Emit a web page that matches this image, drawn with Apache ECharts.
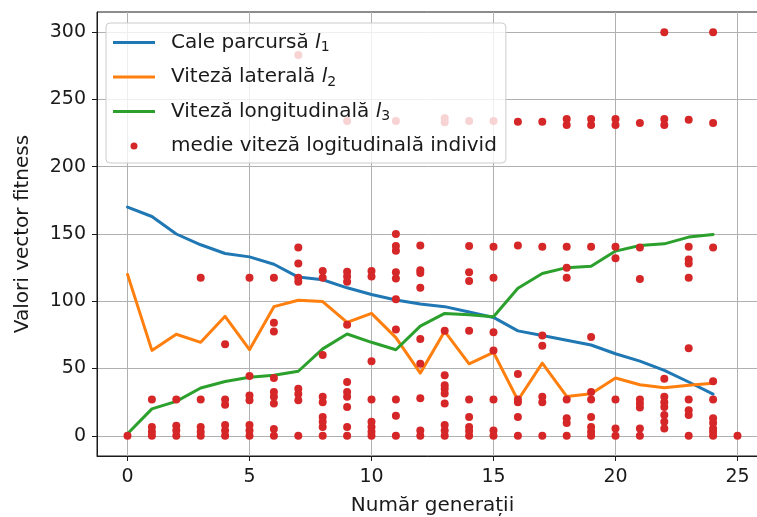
<!DOCTYPE html>
<html>
<head>
<meta charset="utf-8">
<script src="https://cdn.jsdelivr.net/npm/echarts@6/dist/echarts.min.js"></script>
<style>
  html, body { margin: 0; padding: 0; background: #fff; }
  #chart { width: 757px; height: 517px; }
</style>
</head>
<body>
<div id="chart"></div>
<script>
// Generation index for the three fitness components
const generatii = [0, 1, 2, 3, 4, 5, 6, 7, 8, 9, 10, 11, 12, 13, 14, 15, 16, 17, 18, 19, 20, 21, 22, 23, 24];

// Fitness vector components per generation
const caleParcursa = [170, 163, 150, 142, 135.5, 133, 127.5, 118, 116, 110, 105, 101, 98, 96, 92, 88, 78, 74.5, 71, 67.5, 61, 55.5, 48.6, 40, 31];
const vitezaLaterala = [120, 63.5, 75.5, 69.5, 88.8, 64, 96, 100.8, 99.8, 84.3, 91, 73, 46.6, 77.7, 53.5, 62, 26.4, 54, 29.3, 31.3, 43, 38, 35.7, 37.5, 39];
const vitezaLongitudinala = [1.5, 20, 25.6, 35.5, 40.4, 43.6, 45, 48, 64.6, 75.7, 69.5, 64, 81.5, 91, 90, 88.5, 109.7, 120.6, 125, 126, 137.3, 141.5, 142.7, 147.7, 149.7];

// Mean longitudinal speed of each individual, grouped by generation (index = generation)
const medieIndivid = [
  [0],
  [0, 3, 6.5, 27],
  [0, 4, 7.5, 27],
  [0, 3, 6.5, 27, 117.5],
  [0, 4, 8, 23, 27, 68],
  [0, 4, 8, 26.5, 30, 44.5, 117.5],
  [0, 5, 24, 29, 32.5, 43, 77.5, 84, 117.5],
  [0, 26.5, 31, 35, 114.5, 117.5, 128, 140, 283],
  [0, 6.5, 10.5, 14, 25, 29, 60, 117.5, 122.5],
  [0, 6.5, 21.5, 29, 32.5, 40, 82.5, 114.5, 118.5, 122, 234],
  [0, 3, 6.5, 10.5, 27, 55.5, 118.5, 122.5],
  [0, 15, 27, 79, 101.5, 117, 121.5, 137.5, 141, 150, 234],
  [0, 4, 28, 53.5, 72, 110, 121, 123, 141.5],
  [0, 4, 8, 24, 31.5, 35, 37.5, 45, 78, 233, 236],
  [0, 3.5, 6.5, 14, 27, 78, 115, 121.5, 141, 234],
  [0, 4, 27, 63.5, 77, 117.5, 140.5, 234],
  [0, 14, 25, 27, 46, 141.5, 233.5],
  [0, 25, 29, 67, 74.5, 140.5, 233.5],
  [0, 9.5, 13, 27, 117.5, 125, 140.5, 231, 235.5],
  [0, 3, 6.5, 14, 27, 32.5, 73.5, 140.5, 231, 235.5],
  [0, 5.5, 27, 132, 140.5, 231, 235.5],
  [0, 5.5, 21, 24, 27, 116.5, 140, 232.5],
  [5.5, 10.5, 15.5, 21.5, 25, 29, 42.5, 231, 235.5, 300],
  [0, 15.5, 19, 27, 65, 117.5, 128, 131, 140.5, 235],
  [0, 3, 5.5, 9.5, 13, 27, 40.5, 140, 232.5, 300],
  [0]
];

// Axis tick positions and titles
const xTicks = [0, 5, 10, 15, 20, 25];
const yTicks = [0, 50, 100, 150, 200, 250, 300];
const xTitle = 'Număr generații';
const yTitle = 'Valori vector fitness';

const numeSerii = {
  l1: 'Cale parcursă l1',
  l2: 'Viteză laterală l2',
  l3: 'Viteză longitudinală l3',
  pct: 'medie viteză logitudinală individ'
};

const FONT = 'DejaVu Sans';
const INK = '#1a1a1a';

const pairs = arr => generatii.map((g, i) => [g, arr[i]]);
const puncte = [];
medieIndivid.forEach((vals, g) => vals.forEach(v => puncte.push([g, v])));

// Legend label: plain words, italic symbol, subscript index
function legendLabel(name) {
  const m = name.match(/^(.*) l(\d)$/);
  if (!m) return '{n|' + name + '}';
  return '{n|' + m[1] + ' }{i|l}{s|' + m[2] + '}';
}

const lineIcon = 'path://M0,0M42,7M0,2.1H42V4.9H0Z';

const chart = echarts.init(document.getElementById('chart'), null, { renderer: 'canvas' });

const lineSeries = (name, data, color) => ({
  name: name,
  type: 'line',
  data: data,
  symbol: 'none',
  smooth: false,
  z: 2,
  color: color,
  lineStyle: { color: color, width: 3, cap: 'round', join: 'round' },
  emphasis: { disabled: true },
  animation: false
});

chart.setOption({
  animation: false,
  backgroundColor: '#ffffff',
  textStyle: { fontFamily: FONT },
  grid: {
    left: 97, top: 12, width: 671, height: 444,
    show: true, borderColor: INK, borderWidth: 1, backgroundColor: 'transparent',
    containLabel: false, outerBoundsMode: 'none'
  },
  xAxis: {
    type: 'value',
    min: -1.25, max: 26.25,
    name: xTitle, nameLocation: 'middle', nameGap: 40,
    nameTextStyle: { fontFamily: FONT, fontSize: 20, color: INK },
    axisLine: { show: true, onZero: false, lineStyle: { color: INK, width: 1 } },
    axisTick: { show: true, length: 5, customValues: xTicks, lineStyle: { color: INK, width: 1 } },
    axisLabel: { customValues: xTicks, margin: 12, fontFamily: FONT, fontSize: 19, color: INK },
    splitLine: { show: true, lineStyle: { color: '#b0b0b0', width: 1 } }
  },
  yAxis: {
    type: 'value',
    min: -15, max: 315,
    name: yTitle, nameLocation: 'middle', nameGap: 64, nameRotate: 90,
    nameTextStyle: { fontFamily: FONT, fontSize: 20, color: INK },
    axisLine: { show: true, onZero: false, lineStyle: { color: INK, width: 1 } },
    axisTick: { show: true, length: 5, customValues: yTicks, lineStyle: { color: INK, width: 1 } },
    axisLabel: { customValues: yTicks, margin: 11, fontFamily: FONT, fontSize: 19, color: INK },
    splitLine: { show: true, lineStyle: { color: '#b0b0b0', width: 1 } }
  },
  legend: {
    orient: 'vertical',
    left: 106, top: 23,
    padding: [7.5, 9, 5, 7],
    itemGap: 10.5,
    itemWidth: 42, itemHeight: 7,
    backgroundColor: 'rgba(255,255,255,0.8)',
    borderColor: '#cccccc', borderWidth: 1, borderRadius: 4,
    itemStyle: { borderWidth: 0 },
    selectedMode: false,
    formatter: legendLabel,
    textStyle: {
      fontFamily: FONT, fontSize: 20, color: INK, lineHeight: 24,
      padding: [0, 0, 0, 11],
      rich: {
        n: { fontFamily: FONT, fontSize: 20, lineHeight: 24, color: INK },
        i: { fontFamily: FONT, fontSize: 20, lineHeight: 24, fontStyle: 'italic', color: INK },
        s: { fontFamily: FONT, fontSize: 14, lineHeight: 16, verticalAlign: 'bottom', color: INK }
      }
    },
    data: [
      { name: numeSerii.l1, icon: lineIcon },
      { name: numeSerii.l2, icon: lineIcon },
      { name: numeSerii.l3, icon: lineIcon },
      { name: numeSerii.pct, icon: 'circle' }
    ]
  },
  series: [
    lineSeries(numeSerii.l1, pairs(caleParcursa), '#1f77b4'),
    lineSeries(numeSerii.l2, pairs(vitezaLaterala), '#ff7f0e'),
    lineSeries(numeSerii.l3, pairs(vitezaLongitudinala), '#2ca02c'),
    {
      name: numeSerii.pct,
      type: 'scatter',
      data: puncte,
      symbol: 'circle',
      symbolSize: 8,
      z: 3,
      color: '#d62728',
      itemStyle: { color: '#d62728', opacity: 1 },
      emphasis: { disabled: true },
      animation: false
    }
  ]
});
</script>
</body>
</html>
